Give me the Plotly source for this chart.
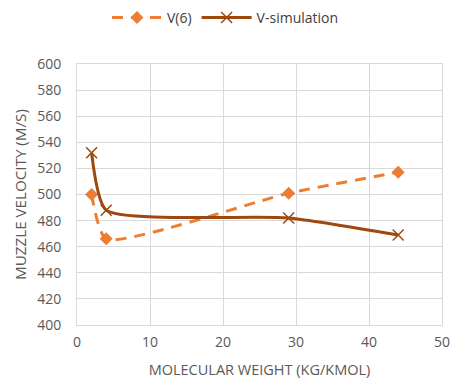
import plotly.graph_objects as go

mw_v6 = [2, 4, 29, 44]
v6 = [500, 466, 501, 517]
mw_sim = [2, 4, 29, 44]
v_sim = [532, 488, 482, 469]

x_ticks = [0, 10, 20, 30, 40, 50]
y_ticks = list(range(400, 601, 20))

orange = "#ED7D31"
brown = "#9E480E"
font = "Open Sans, Liberation Sans, sans-serif"
grey = "#595959"

fig = go.Figure()
fig.add_trace(go.Scatter(
    x=mw_v6, y=v6, name="V(6)", mode="lines+markers",
    line=dict(color=orange, width=3, dash="11px,8px", shape="spline", smoothing=0.55),
    marker=dict(symbol="diamond", size=10, color=orange),
))
fig.add_trace(go.Scatter(
    x=mw_sim, y=v_sim, name="V-simulation", mode="lines+markers",
    line=dict(color=brown, width=3, shape="spline", smoothing=0.55),
    marker=dict(symbol="x-thin", size=11, line=dict(color=brown, width=1.5)),
))

fig.update_layout(
    width=451, height=381,
    margin=dict(l=77, r=9, t=64, b=56),
    plot_bgcolor="white", paper_bgcolor="white",
    font=dict(family=font, size=14, color=grey),
    legend=dict(orientation="h", x=0.5, xanchor="center", xref="container",
                y=0.995, yanchor="top", yref="container",
                font=dict(size=14, color="#404040"), itemwidth=50),
    xaxis=dict(range=[0, 50], tickvals=x_ticks, showgrid=True, gridcolor="#D9D9D9",
               zeroline=False, showline=True, linecolor="#D9D9D9", mirror=True,
               automargin=False,
               title=dict(text="MOLECULAR WEIGHT (KG/KMOL)", font=dict(size=14.5, color=grey), standoff=15),
               ticks="", ticklabelstandoff=4, tickfont=dict(size=14, color=grey)),
    yaxis=dict(range=[400, 600], tickvals=y_ticks, showgrid=True, gridcolor="#D9D9D9",
               zeroline=False, showline=True, linecolor="#D9D9D9", mirror=True,
               automargin=False,
               title=dict(text="MUZZLE VELOCITY (M/S)", font=dict(size=15.2, color=grey), standoff=6),
               ticks="", ticklabelstandoff=12, tickfont=dict(size=14, color=grey)),
)

fig.write_html("out.html")
